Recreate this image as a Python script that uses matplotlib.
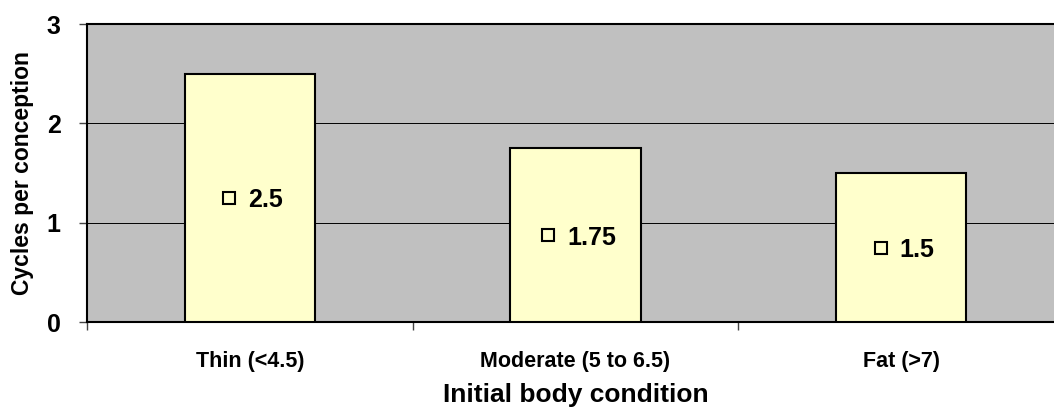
import numpy as np
import matplotlib
matplotlib.use("Agg")
import matplotlib.pyplot as plt

plt.rcParams['font.family'] = ['Liberation Sans', 'DejaVu Sans']
plt.rcParams['font.weight'] = 'bold'

categories = ['Thin (<4.5)', 'Moderate (5 to 6.5)', 'Fat (>7)']
cycles = [2.5, 1.75, 1.5]
value_labels = ['2.5', '1.75', '1.5']

fig = plt.figure(figsize=(10.54, 4.11), dpi=100)
ax = fig.add_axes([87/1054, 1-322/411, (1064-87)/1054, (322-24)/411])
ax.set_facecolor('#C0C0C0')

x = np.arange(len(categories))
ax.bar(x, cycles, width=0.4, color='#FFFFCC', edgecolor='black', linewidth=1.5, zorder=3)

ax.set_ylim(0, 3)
ax.set_xlim(-0.5, len(categories)-0.5)
ax.set_yticks([0, 1, 2, 3])
ax.yaxis.grid(True, color='black', linewidth=0.7, zorder=0)
ax.set_axisbelow(True)

ax.set_xticks(np.arange(len(categories)+1)-0.5)
ax.set_xticklabels([])
ax.set_xticks(x, minor=True)
ax.set_xticklabels(categories, minor=True, fontsize=15.5, fontweight='bold')
ax.tick_params(axis='x', which='minor', length=0, pad=21)
ax.tick_params(axis='x', which='major', length=6, width=1, color='#444444')
ax.tick_params(axis='y', length=6, width=1, color='#444444', labelsize=18, pad=13)
for lab in ax.get_yticklabels():
    lab.set_fontweight('bold')

for s in ax.spines.values():
    s.set_linewidth(1.5)
    s.set_color('black')

ax.set_xlabel('Initial body condition', fontsize=19, fontweight='bold', labelpad=8)
ax.set_ylabel('Cycles per conception', fontsize=16.5, fontweight='bold', labelpad=9)

# value labels with legend-key square
fig.canvas.draw()
r = fig.canvas.get_renderer()
for i, v in enumerate(cycles):
    t = ax.annotate(value_labels[i], xy=(x[i], v/2), xytext=(11.5, 0), textcoords='offset points',
                    ha='center', va='center_baseline', fontsize=18, fontweight='bold', zorder=5)
    bb = t.get_window_extent(r)
    px, py = ax.transData.transform((x[i], v/2))
    mx, _ = ax.transData.inverted().transform((bb.x0 - 19, py))
    ax.plot([mx], [v/2], marker='s', markersize=8, markerfacecolor='none',
            markeredgecolor='black', markeredgewidth=1.5, zorder=5, clip_on=False)

fig.savefig('out.png', dpi=100)
